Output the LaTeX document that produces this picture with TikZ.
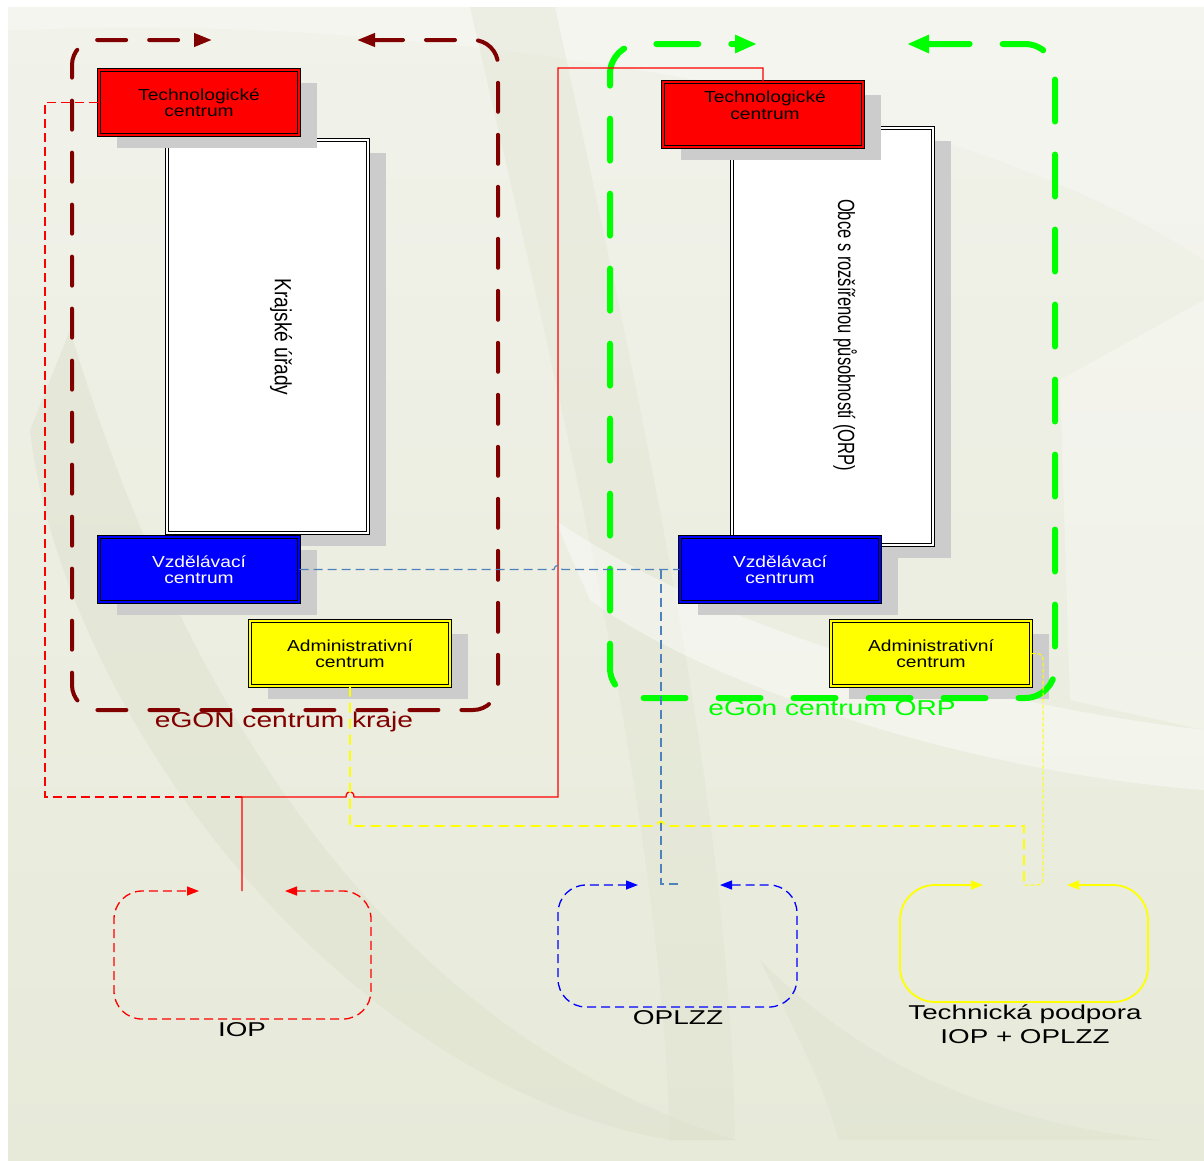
\documentclass[tikz,border=0pt]{standalone}
\usepackage{fontspec}
\setmainfont{Liberation Sans}
\usetikzlibrary{arrows.meta,shadows}
\definecolor{bgtop}{HTML}{F1F2EA}
\definecolor{bgbot}{HTML}{E7EAD9}
\definecolor{bandc}{HTML}{DCE0CB}
\definecolor{brownc}{HTML}{800000}
\definecolor{greenc}{HTML}{00FF00}
\definecolor{redc}{HTML}{FF0000}
\definecolor{bluec}{HTML}{0000FF}
\definecolor{yellowc}{HTML}{FFFF00}
\definecolor{steelc}{HTML}{4F81BD}
\definecolor{shadowc}{HTML}{CCCCCC}
\newcommand\hs[2]{\scalebox{#1}[1]{#2}}
\tikzset{
  tipS/.tip={Triangle[length=12pt,width=9pt]},
  tipB/.tip={Triangle[length=18pt,width=13pt]},
  tipG/.tip={Triangle[length=22pt,width=17pt]}
}
\begin{document}
\begin{tikzpicture}[x=1pt,y=-1pt,
  shadowed/.style={drop shadow={shadow xshift=18pt,shadow yshift=-13pt,fill=shadowc,opacity=1}},
  cbox/.style={shadowed,draw=black,line width=1.2pt,double distance=2pt,minimum width=200pt,minimum height=65pt,inner sep=0pt,align=center,font=\fontsize{16}{16.5}\selectfont},
  techbox/.style={cbox,fill=redc,double=redc},
  vzdbox/.style={cbox,fill=bluec,double=bluec,text=white},
  admbox/.style={cbox,fill=yellowc,double=yellowc},
  bigbox/.style={shadowed,draw=black,fill=white,double=white,line width=1.1pt,double distance=2pt,minimum width=201pt,inner sep=0pt},
  vtext/.style={rotate=-90,inner sep=0pt,font=\fontsize{20}{22}\selectfont},
  grouplabel/.style={inner sep=0pt,font=\fontsize{21.5}{24}\selectfont},
  botlabel/.style={inner sep=0pt,align=center,font=\fontsize{20}{24}\selectfont},
  thindash/.style={line width=1.3pt,dash pattern=on 9pt off 5pt}
]
\useasboundingbox (0,0) rectangle (1204,1160);
\fill[white] (0,0) rectangle (1204,1160);
% background
\shade[top color=bgtop,bottom color=bgbot] (8,7) rectangle (1204,1160);
\fill[white,opacity=0.25] (27,30) .. controls (300,15) and (900,60) .. (1204,260) -- (1204,7) -- (8,7) -- (8,30) -- cycle;
\fill[bandc,opacity=0.3] (470,7) .. controls (560,400) and (660,800) .. (670,1140) -- (735,1140) .. controls (730,800) and (640,400) .. (555,7) -- cycle;
\fill[bandc,opacity=0.45] (30,430) .. controls (60,700) and (330,1080) .. (670,1140) -- (735,1140) .. controls (420,1040) and (200,760) .. (70,330) -- cycle;
\fill[bandc,opacity=0.4] (838,1140) -- (1160,1140) .. controls (980,1120) and (860,1060) .. (760,960) .. controls (800,1040) and (830,1100) .. (838,1140) -- cycle;
\fill[white,opacity=0.4] (555,520) .. controls (700,620) and (950,700) .. (1204,730) -- (1204,790) .. controls (950,770) and (700,680) .. (590,600) -- cycle;
\fill[white,opacity=0.3] (1060,380) -- (1204,300) -- (1204,730) -- (1070,700) -- cycle;

% left group boxes
\node[bigbox,minimum height=393pt] (BigL) at (267.5,336.5) {};
\node[vtext] (BigLtxt) at (281,337) {\scalebox{0.957}[1.17]{Krajské úřady}};
\node[techbox] (TechL) at (199,102.5) {\hs{1.2}{Technologické}\\\hs{1.2}{centrum}};
\node[vzdbox] (VzdL) at (199,569.5) {\hs{1.2}{Vzdělávací}\\\hs{1.2}{centrum}};
\node[admbox] (AdmL) at (350,653.5) {\hs{1.2}{Administrativní}\\\hs{1.2}{centrum}};

% right group boxes
\node[bigbox,minimum height=417pt] (BigR) at (832.5,336.5) {};
\node[vtext] (BigRtxt) at (845,335) {\scalebox{0.826}[1.17]{Obce s rozšířenou působností (ORP)}};
\node[techbox] (TechR) at (763,114.5) {};
\node[inner sep=0pt,align=center,font=\fontsize{16}{16.5}\selectfont] (TechRtxt) at (765,105) {\hs{1.2}{Technologické}\\\hs{1.2}{centrum}};
\node[vzdbox] (VzdR) at (780,569.5) {\hs{1.2}{Vzdělávací}\\\hs{1.2}{centrum}};
\node[admbox] (AdmR) at (931,653.5) {\hs{1.2}{Administrativní}\\\hs{1.2}{centrum}};

% group loops
\draw[brownc,line width=4pt,line cap=round,dash pattern=on 29pt off 23pt,rounded corners=25pt,tipB-tipB]
  (357,40) -- (498,40) -- (498,710) -- (72,710) -- (72,40) -- (212,40);
\draw[greenc,line width=6pt,line cap=round,dash pattern=on 42pt off 33pt,rounded corners=30pt,tipG-tipG]
  (907,44) -- (1055,44) -- (1055,698) -- (610,698) -- (610,44) -- (757,44);
\node[grouplabel,text=brownc] (GL) at (284,722) {\hs{1.31}{eGON centrum kraje}};
\node[grouplabel,text=greenc] (GR) at (832,708.5) {\hs{1.31}{eGon centrum ORP}};

% bottom loops
\coordinate (iopTop) at (242,891);
\coordinate (oplTop) at (679,884);
\coordinate (tpTop) at (1024,885);
\draw[redc,thindash,rounded corners=28pt,tipS-tipS]
  (285,891) -- (371,891) -- (371,1019) -- (114,1019) -- (114,891) -- (199,891);
\draw[bluec,thindash,rounded corners=28pt,tipS-tipS]
  (720,885) -- (797,885) -- (797,1007) -- (558,1007) -- (558,885) -- (638,885);
\draw[yellowc,line width=1.8pt,rounded corners=35pt,tipS-tipS]
  (1067,885) -- (1148,885) -- (1148,1002) -- (900,1002) -- (900,885) -- (983,885);
\node[botlabel] (IOPl) at (242,1029.5) {\hs{1.39}{IOP}};
\node[botlabel] (OPLl) at (678,1018) {\hs{1.4}{OPLZZ}};
\node[botlabel] (TPl) at (1025,1024) {\hs{1.39}{Technická podpora}\\\hs{1.39}{IOP + OPLZZ}};

% connectors
\coordinate (jn) at (242,797);
\coordinate (bj) at (661,569.5);
\draw[redc,thindash] (TechL.west) -- (45,102.5) -- (45,797) -- (jn);
\draw[redc,line width=1.3pt] (TechR.north) |- (558,68) -- (558,797) -- (354,797)
  .. controls (354,790) and (346,790) .. (346,797) -- (jn) -- (iopTop);
\draw[steelc,line width=1.2pt,dash pattern=on 9pt off 5pt] (VzdL.east) -- (554,569.5)
  .. controls (554,564) and (562,564) .. (562,569.5) -- (VzdR.west);
\draw[steelc,line width=1.2pt,dash pattern=on 9pt off 5pt] (bj) -- (661,884) -- (oplTop);
\draw[yellowc,line width=1.8pt,dash pattern=on 10pt off 6pt] (AdmL.south) -- (350,826) -- (657,826)
  .. controls (657,820) and (665,820) .. (665,826) -- (1024,826) -- (tpTop);
\draw[yellowc,line width=1pt,dash pattern=on 4pt off 2pt,rounded corners=6pt] (AdmR.east) -- (1043,653.5) -- (1043,885) -- (tpTop);
\end{tikzpicture}
\end{document}
